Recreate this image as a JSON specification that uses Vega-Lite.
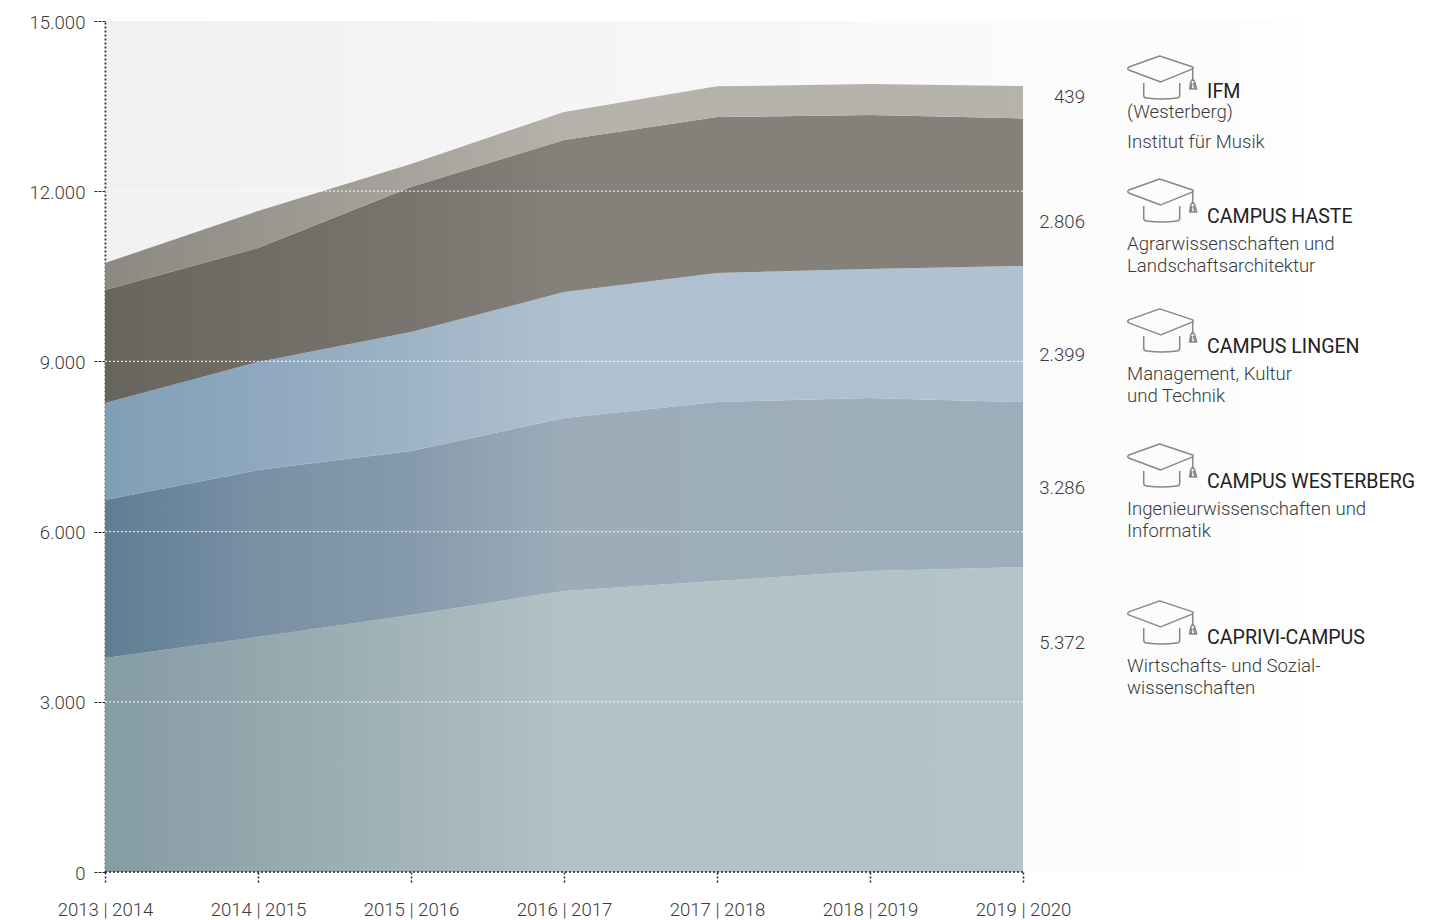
{
  "$schema": "https://vega.github.io/schema/vega-lite/v6.json",
  "autosize": {"type": "none"},
  "width": 1340,
  "height": 851,
  "padding": {"left": 105, "top": 21, "right": 0, "bottom": 48},
  "background": "white",
  "view": {"stroke": null},
  "config": {"font": "Roboto", "text": {"font": "Roboto"}},
  "datasets": {
    "students": [
      {"year": 2013, "campus": "Caprivi", "order": 1, "students": 3772},
      {"year": 2014, "campus": "Caprivi", "order": 1, "students": 4142},
      {"year": 2015, "campus": "Caprivi", "order": 1, "students": 4530},
      {"year": 2016, "campus": "Caprivi", "order": 1, "students": 4953},
      {"year": 2017, "campus": "Caprivi", "order": 1, "students": 5129},
      {"year": 2018, "campus": "Caprivi", "order": 1, "students": 5305},
      {"year": 2019, "campus": "Caprivi", "order": 1, "students": 5372},
      {"year": 2013, "campus": "Westerberg", "order": 2, "students": 2785},
      {"year": 2014, "campus": "Westerberg", "order": 2, "students": 2944},
      {"year": 2015, "campus": "Westerberg", "order": 2, "students": 2890},
      {"year": 2016, "campus": "Westerberg", "order": 2, "students": 3049},
      {"year": 2017, "campus": "Westerberg", "order": 2, "students": 3155},
      {"year": 2018, "campus": "Westerberg", "order": 2, "students": 3050},
      {"year": 2019, "campus": "Westerberg", "order": 2, "students": 2912},
      {"year": 2013, "campus": "Lingen", "order": 3, "students": 1710},
      {"year": 2014, "campus": "Lingen", "order": 3, "students": 1903},
      {"year": 2015, "campus": "Lingen", "order": 3, "students": 2098},
      {"year": 2016, "campus": "Lingen", "order": 3, "students": 2221},
      {"year": 2017, "campus": "Lingen", "order": 3, "students": 2274},
      {"year": 2018, "campus": "Lingen", "order": 3, "students": 2273},
      {"year": 2019, "campus": "Lingen", "order": 3, "students": 2399},
      {"year": 2013, "campus": "Haste", "order": 4, "students": 1991},
      {"year": 2014, "campus": "Haste", "order": 4, "students": 2010},
      {"year": 2015, "campus": "Haste", "order": 4, "students": 2556},
      {"year": 2016, "campus": "Haste", "order": 4, "students": 2679},
      {"year": 2017, "campus": "Haste", "order": 4, "students": 2750},
      {"year": 2018, "campus": "Haste", "order": 4, "students": 2715},
      {"year": 2019, "campus": "Haste", "order": 4, "students": 2600},
      {"year": 2013, "campus": "IFM", "order": 5, "students": 476},
      {"year": 2014, "campus": "IFM", "order": 5, "students": 652},
      {"year": 2015, "campus": "IFM", "order": 5, "students": 405},
      {"year": 2016, "campus": "IFM", "order": 5, "students": 494},
      {"year": 2017, "campus": "IFM", "order": 5, "students": 540},
      {"year": 2018, "campus": "IFM", "order": 5, "students": 546},
      {"year": 2019, "campus": "IFM", "order": 5, "students": 570}
    ],
    "totals": [
      {"label": "439", "x": 2019.405, "y": 13554},
      {"label": "2.806", "x": 2019.405, "y": 11351},
      {"label": "2.399", "x": 2019.405, "y": 9007},
      {"label": "3.286", "x": 2019.405, "y": 6663},
      {"label": "5.372", "x": 2019.405, "y": 3931}
    ],
    "headings": [
      {"label": "IFM", "x": 2020.203, "y": 13642},
      {"label": "CAMPUS HASTE", "x": 2020.203, "y": 11439},
      {"label": "CAMPUS LINGEN", "x": 2020.203, "y": 9148},
      {"label": "CAMPUS WESTERBERG", "x": 2020.203, "y": 6768},
      {"label": "CAPRIVI-CAMPUS", "x": 2020.203, "y": 4018}
    ],
    "descriptions": [
      {"label": "(Westerberg)", "x": 2019.68, "y": 13290},
      {"label": "Institut für Musik", "x": 2019.68, "y": 12761},
      {"label": "Agrarwissenschaften und", "x": 2019.68, "y": 10963},
      {"label": "Landschaftsarchitektur", "x": 2019.68, "y": 10576},
      {"label": "Management, Kultur", "x": 2019.68, "y": 8672},
      {"label": "und Technik", "x": 2019.68, "y": 8284},
      {"label": "Ingenieurwissenschaften und", "x": 2019.68, "y": 6292},
      {"label": "Informatik", "x": 2019.68, "y": 5905},
      {"label": "Wirtschafts- und Sozial-", "x": 2019.68, "y": 3525},
      {"label": "wissenschaften", "x": 2019.68, "y": 3137}
    ],
    "caps": [
      {"campus": "IFM", "x": 2019.9, "y": 14120},
      {"campus": "Haste", "x": 2019.9, "y": 11952},
      {"campus": "Lingen", "x": 2019.9, "y": 9661},
      {"campus": "Westerberg", "x": 2019.9, "y": 7281},
      {"campus": "Caprivi", "x": 2019.9, "y": 4514}
    ],
    "grid": [
      {"level": 3000, "from": 2013, "to": 2019},
      {"level": 6000, "from": 2013, "to": 2019},
      {"level": 9000, "from": 2013, "to": 2019},
      {"level": 12000, "from": 2013, "to": 2019}
    ],
    "panel": [{"from": 2013.012, "to": 2020.83, "low": 0, "high": 15000}],
    "baseline": [{"from": 2013, "to": 2019, "level": 0}]
  },
  "layer": [
    {
      "data": {"name": "panel"},
      "mark": {
        "type": "rect",
        "color": {
          "gradient": "linear", "x1": 0, "y1": 0, "x2": 1, "y2": 0,
          "stops": [
            {"offset": 0, "color": "#f1f1f1"},
            {"offset": 0.4, "color": "#f5f5f5"},
            {"offset": 0.8, "color": "#fbfbfb"},
            {"offset": 1, "color": "#fdfdfd"}
          ]
        }
      },
      "encoding": {
        "x": {
          "field": "from", "type": "quantitative",
          "scale": {"domain": [2013, 2021.758], "nice": false, "zero": false},
          "axis": {
            "title": null, "values": [2013, 2014, 2015, 2016, 2017, 2018, 2019],
            "domain": false, "grid": false,
            "labelExpr": "datum.value + ' | ' + (datum.value + 1)",
            "labelFont": "Roboto", "labelFontWeight": 300, "labelFontSize": 18.6,
            "labelColor": "#3a3a3a", "labelPadding": 31, "labelBaseline": "alphabetic",
            "labelOverlap": false, "labelFlush": false,
            "tickSize": 12, "tickColor": "#222222", "tickDash": [2, 2], "tickWidth": 1.5,
            "zindex": 0
          }
        },
        "x2": {"field": "to"},
        "y": {
          "field": "high", "type": "quantitative",
          "scale": {"domain": [0, 15000], "nice": false},
          "axis": {
            "title": null, "values": [0, 3000, 6000, 9000, 12000, 15000],
            "grid": false,
            "labelExpr": "replace(format(datum.value, ','), ',', '.')",
            "labelFont": "Roboto", "labelFontWeight": 300, "labelFontSize": 18.6,
            "labelColor": "#3a3a3a", "labelPadding": 9, "labelOffset": 1,
            "domainColor": "#222222", "domainDash": [2, 2], "domainWidth": 1.8,
            "tickSize": 11, "tickColor": "#222222", "tickDash": [3, 1], "tickWidth": 1,
            "zindex": 0
          }
        },
        "y2": {"field": "low"}
      }
    },
    {
      "data": {"name": "students"},
      "transform": [
        {"stack": "students", "groupby": ["year"], "sort": [{"field": "order", "order": "ascending"}], "as": ["y0", "y1"]},
        {"filter": "datum.campus === 'Caprivi'"}
      ],
      "mark": {
        "type": "area",
        "color": {
          "gradient": "linear", "x1": 0, "y1": 0, "x2": 1, "y2": 0,
          "stops": [
            {"offset": 0, "color": "#859ca3"},
            {"offset": 0.17, "color": "#94a8ae"},
            {"offset": 0.33, "color": "#a2b4b8"},
            {"offset": 0.5, "color": "#b2c2c7"},
            {"offset": 1, "color": "#b3c3c8"}
          ]
        }
      },
      "encoding": {
        "x": {"field": "year", "type": "quantitative"},
        "y": {"field": "y1", "type": "quantitative"},
        "y2": {"field": "y0"}
      }
    },
    {
      "data": {"name": "students"},
      "transform": [
        {"stack": "students", "groupby": ["year"], "sort": [{"field": "order", "order": "ascending"}], "as": ["y0", "y1"]},
        {"filter": "datum.campus === 'Westerberg'"}
      ],
      "mark": {
        "type": "area",
        "color": {
          "gradient": "linear", "x1": 0, "y1": 0, "x2": 1, "y2": 0,
          "stops": [
            {"offset": 0, "color": "#5f7e92"},
            {"offset": 0.17, "color": "#7a90a5"},
            {"offset": 0.33, "color": "#859aac"},
            {"offset": 0.5, "color": "#9cadb9"},
            {"offset": 1, "color": "#9eafbc"}
          ]
        }
      },
      "encoding": {
        "x": {"field": "year", "type": "quantitative"},
        "y": {"field": "y1", "type": "quantitative"},
        "y2": {"field": "y0"}
      }
    },
    {
      "data": {"name": "students"},
      "transform": [
        {"stack": "students", "groupby": ["year"], "sort": [{"field": "order", "order": "ascending"}], "as": ["y0", "y1"]},
        {"filter": "datum.campus === 'Lingen'"}
      ],
      "mark": {
        "type": "area",
        "color": {
          "gradient": "linear", "x1": 0, "y1": 0, "x2": 1, "y2": 0,
          "stops": [
            {"offset": 0, "color": "#7f9fb5"},
            {"offset": 0.17, "color": "#8fa8bf"},
            {"offset": 0.33, "color": "#9db3c4"},
            {"offset": 0.5, "color": "#afc1d1"},
            {"offset": 1, "color": "#b0c1d1"}
          ]
        }
      },
      "encoding": {
        "x": {"field": "year", "type": "quantitative"},
        "y": {"field": "y1", "type": "quantitative"},
        "y2": {"field": "y0"}
      }
    },
    {
      "data": {"name": "students"},
      "transform": [
        {"stack": "students", "groupby": ["year"], "sort": [{"field": "order", "order": "ascending"}], "as": ["y0", "y1"]},
        {"filter": "datum.campus === 'Haste'"}
      ],
      "mark": {
        "type": "area",
        "color": {
          "gradient": "linear", "x1": 0, "y1": 0, "x2": 1, "y2": 0,
          "stops": [
            {"offset": 0, "color": "#68655e"},
            {"offset": 0.17, "color": "#6f6d66"},
            {"offset": 0.33, "color": "#77756e"},
            {"offset": 0.5, "color": "#84807a"},
            {"offset": 1, "color": "#85817a"}
          ]
        }
      },
      "encoding": {
        "x": {"field": "year", "type": "quantitative"},
        "y": {"field": "y1", "type": "quantitative"},
        "y2": {"field": "y0"}
      }
    },
    {
      "data": {"name": "students"},
      "transform": [
        {"stack": "students", "groupby": ["year"], "sort": [{"field": "order", "order": "ascending"}], "as": ["y0", "y1"]},
        {"filter": "datum.campus === 'IFM'"}
      ],
      "mark": {
        "type": "area",
        "color": {
          "gradient": "linear", "x1": 0, "y1": 0, "x2": 1, "y2": 0,
          "stops": [
            {"offset": 0, "color": "#8c8983"},
            {"offset": 0.17, "color": "#99968f"},
            {"offset": 0.33, "color": "#a6a39d"},
            {"offset": 0.5, "color": "#b5b1ab"},
            {"offset": 1, "color": "#b6b2ac"}
          ]
        }
      },
      "encoding": {
        "x": {"field": "year", "type": "quantitative"},
        "y": {"field": "y1", "type": "quantitative"},
        "y2": {"field": "y0"}
      }
    },
    {
      "data": {"name": "grid"},
      "mark": {"type": "rule", "color": "#ffffff", "opacity": 0.8, "strokeWidth": 1.2, "strokeDash": [2, 2]},
      "encoding": {
        "x": {"field": "from", "type": "quantitative"},
        "x2": {"field": "to"},
        "y": {"field": "level", "type": "quantitative"}
      }
    },
    {
      "data": {"name": "baseline"},
      "mark": {"type": "rule", "color": "#222222", "strokeWidth": 1.5, "strokeDash": [2, 2]},
      "encoding": {
        "x": {"field": "from", "type": "quantitative"},
        "x2": {"field": "to"},
        "y": {"field": "level", "type": "quantitative"}
      }
    },
    {
      "data": {"name": "totals"},
      "mark": {"type": "text", "align": "right", "baseline": "alphabetic", "font": "Roboto", "fontWeight": 300, "fontSize": 18.6, "color": "#3a3a3a"},
      "encoding": {
        "x": {"field": "x", "type": "quantitative"},
        "y": {"field": "y", "type": "quantitative"},
        "text": {"field": "label"}
      }
    },
    {
      "data": {"name": "headings"},
      "mark": {"type": "text", "align": "left", "baseline": "alphabetic", "font": "Roboto", "fontWeight": 400, "fontSize": 19.6, "color": "#222222"},
      "encoding": {
        "x": {"field": "x", "type": "quantitative"},
        "y": {"field": "y", "type": "quantitative"},
        "text": {"field": "label"}
      }
    },
    {
      "data": {"name": "descriptions"},
      "mark": {"type": "text", "align": "left", "baseline": "alphabetic", "font": "Roboto", "fontWeight": 300, "fontSize": 18.6, "color": "#3a3a3a"},
      "encoding": {
        "x": {"field": "x", "type": "quantitative"},
        "y": {"field": "y", "type": "quantitative"},
        "text": {"field": "label"}
      }
    },
    {
      "data": {"name": "caps"},
      "mark": {
        "type": "point",
        "filled": false,
        "size": 4,
        "opacity": 1,
        "stroke": "#8a8780",
        "strokeWidth": 1.5,
        "strokeJoin": "round",
        "shape": "M-1,-15 L-32,-4 Q-34,-2 -32,-1 L0,11 L32,-2 Q33,-3 32,-4 L-1,-15 Z M32,-3 L32,8 M29,18 L30,11 L32,8 L34,11 L36,18 Z M31,12 L30.5,18 M33,12 L34,18 M-17,12 L-17,24 Q-17,27 -14,27 Q1,29 16,27 Q19,27 19,24 L19,12"
      },
      "encoding": {
        "x": {"field": "x", "type": "quantitative"},
        "y": {"field": "y", "type": "quantitative"}
      }
    }
  ]
}
